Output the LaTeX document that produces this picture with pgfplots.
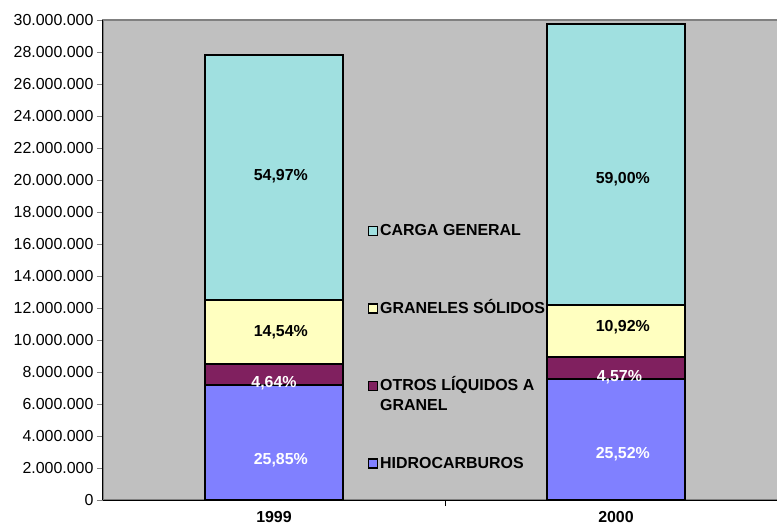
\documentclass[border=0pt]{standalone}
\usepackage{pgfplots}
\pgfplotsset{compat=1.18}
\usepackage{fontspec}
\setmainfont{Liberation Sans}
\definecolor{hidro}{HTML}{8080FF}
\definecolor{otros}{HTML}{80205F}
\definecolor{graneles}{HTML}{FFFFC0}
\definecolor{carga}{HTML}{A0E0E0}
\definecolor{bggray}{HTML}{C0C0C0}
\newcommand{\fs}{\fontsize{16}{20}\selectfont}
\newcommand{\legtxt}[1]{\raisebox{0pt}[11bp][0pt]{#1}}
\pgfplotsset{sqleg/.style={legend image code/.code={\draw[#1, draw=black, line width=1.3bp] (0bp,-4.5bp) rectangle (9bp,4.5bp);}}}
\begin{document}
\begin{tikzpicture}
\path[use as bounding box] (-103bp,-31bp) rectangle (674bp,500bp);
\begin{axis}[
  scale only axis, width=684bp, height=480bp,
  xmin=-0.5, xmax=1.5, ymin=0, ymax=30000000,
  ybar stacked, bar width=0.403,
  axis x line*=bottom, axis y line*=left,
  axis line style={black, line width=1bp},
  axis background/.style={fill=bggray, draw=gray, line width=1.5bp},
  tick align=outside, major tick length=6bp, minor tick length=6bp,
  ytick={0,2000000,...,30000000},
  scaled y ticks=false,
  yticklabel style={font=\fs, /pgf/number format/.cd, fixed, precision=0, 1000 sep={.}, assume math mode=true},
  xtick={0,1}, xticklabels={1999,2000}, minor xtick={0.5},
  xticklabel style={font=\fs\bfseries, yshift=-2bp},
  every major x tick/.append style={draw=none},
  every minor x tick/.append style={draw=black, line width=1bp},
  legend style={at={(rel axis cs:0.387,0.574)}, anchor=north west, draw=none, fill=none,
    font=\fs\bfseries, row sep=65bp, inner sep=0pt, nodes={inner ysep=0pt}, cells={anchor=west}},
  reverse legend,
]
\addplot[fill=hidro, draw=black, line width=2bp, sqleg] coordinates {(0,7190000) (1,7590000)};
\addlegendentry{\legtxt{HIDROCARBUROS}}
\addplot[fill=otros, draw=black, line width=2bp, sqleg] coordinates {(0,1290000) (1,1360000)};
\addlegendentry{\legtxt{\vtop{\hbox{OTROS LÍQUIDOS A}\hbox{GRANEL}}}}
\addplot[fill=graneles, draw=black, line width=2bp, sqleg] coordinates {(0,4040000) (1,3250000)};
\addlegendentry{\legtxt{GRANELES SÓLIDOS}}
\addplot[fill=carga, draw=black, line width=2bp, sqleg] coordinates {(0,15280000) (1,17550000)};
\addlegendentry{\legtxt{CARGA GENERAL}}
\end{axis}
\begin{axis}[
  scale only axis, width=684bp, height=480bp,
  xmin=-0.5, xmax=1.5, ymin=0, ymax=30000000,
  hide axis, clip=false,
]
\addplot[draw=none, mark=none, nodes near coords, point meta=explicit symbolic,
  nodes near coords align=center,
  every node near coord/.append style={font=\fs\bfseries, text=black, anchor=center}]
  coordinates {(0.02,20250000) [54,97\%] (1.02,20050000) [59,00\%]
               (0.02,10500000) [14,54\%] (1.02,10810000) [10,92\%]};
\addplot[draw=none, mark=none, nodes near coords, point meta=explicit symbolic,
  nodes near coords align=center,
  every node near coord/.append style={font=\fs\bfseries, text=white, anchor=center}]
  coordinates {(0.0,7310000) [4,64\%] (1.01,7690000) [4,57\%]
               (0.02,2500000) [25,85\%] (1.02,2870000) [25,52\%]};
\end{axis}
\end{tikzpicture}
\end{document}
